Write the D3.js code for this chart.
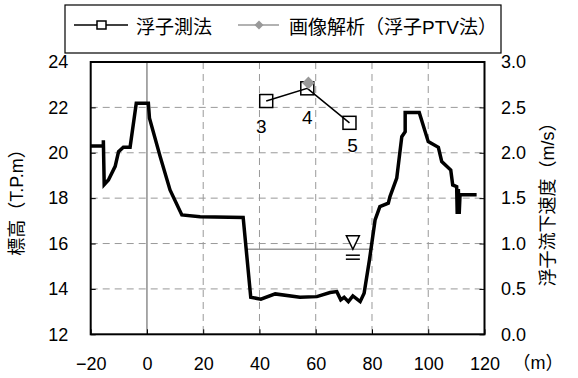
<!DOCTYPE html>
<html>
<head>
<meta charset="utf-8">
<script src="https://cdn.jsdelivr.net/npm/d3@7"></script>
<style>
  body { margin: 0; background: #fff; }
  svg { font-family: "Liberation Sans", "Noto Sans CJK JP", sans-serif; }
</style>
</head>
<body>
<div id="chart"></div>
<script>
// cross section (distance m, elevation T.P.m)
const sectionDist = [-20, -15.5, -15.5, -15.2, -13.7, -11.3, -10.1, -8.4, -6.0, -3.8, 0.5, 0.9, 4.7, 8.2, 12.4, 18.9,
  34.2, 36.9, 40.5, 45.6, 54.4, 60.4, 65.1, 67.5, 68.9, 70.1, 71.6, 73.2, 75.8, 77.2, 79.1, 81.1,
  82.8, 85.8, 86.4, 88.8, 90.6, 91.8, 91.8, 96.8, 100.0, 103.6, 104.8, 108.0, 108.7, 110.1,
  110.3, 110.7, 111.0, 111.3, 117.2];
const sectionElev = [20.3, 20.3, 20.55, 18.6, 18.8, 19.4, 20.05, 20.24, 20.24, 22.18, 22.18, 21.52, 19.83, 18.36, 17.26, 17.18,
  17.15, 13.63, 13.55, 13.78, 13.63, 13.66, 13.84, 13.88, 13.52, 13.63, 13.44, 13.69, 13.44, 13.81, 15.28, 17.04,
  17.63, 17.78, 18.07, 18.88, 20.71, 20.93, 21.77, 21.77, 20.49, 20.24, 19.61, 19.24, 18.58, 18.51,
  17.3, 18.4, 17.3, 18.15, 18.15];

// float measurements (distance m, velocity m/s)
const floatNo = ['3', '4', '5'];
const floatDist = [42.4, 57.0, 72.0];
const floatVel = [2.57, 2.71, 2.33];

// image analysis (PTV)
const ptvDist = [57.4];
const ptvVel = [2.77];

// water level
const waterLevel = 15.75;
const waterFrom = 35, waterTo = 80.5, waterMark = 73.2;

// ticks
const xTicks = [-20, 0, 20, 40, 60, 80, 100, 120];
const yTicks = [12, 14, 16, 18, 20, 22, 24];
const y2Ticks = [0, 0.5, 1.0, 1.5, 2.0, 2.5, 3.0];

const legendLabels = ['浮子測法', '画像解析（浮子PTV法）'];

const W = 578, H = 378;
const m = { left: 90.7, right: 484.5, top: 62, bottom: 334.3 };

const svg = d3.select('#chart').append('svg')
  .attr('width', W)
  .attr('height', H);

const x = d3.scaleLinear().domain([-20, 120]).range([m.left, m.right]);
const y = d3.scaleLinear().domain([12, 24]).range([m.bottom, m.top]);
const y2 = d3.scaleLinear().domain([0, 3]).range([m.bottom, m.top]);

// dashed grid
svg.append('g')
  .selectAll('line')
  .data(yTicks.filter(d => d > 12 && d < 24))
  .enter().append('line')
  .attr('x1', m.left).attr('x2', m.right)
  .attr('y1', d => y(d)).attr('y2', d => y(d))
  .attr('stroke', '#999').attr('stroke-dasharray', '7,5');

svg.append('g')
  .selectAll('line')
  .data(xTicks.filter(d => d > 0 && d < 120))
  .enter().append('line')
  .attr('x1', d => x(d)).attr('x2', d => x(d))
  .attr('y1', m.top).attr('y2', m.bottom)
  .attr('stroke', '#999').attr('stroke-dasharray', '7,5');

// x = 0 line
svg.append('line')
  .attr('x1', x(0)).attr('x2', x(0))
  .attr('y1', m.top).attr('y2', m.bottom)
  .attr('stroke', '#555').attr('stroke-width', 1);

// water level
svg.append('line')
  .attr('x1', x(waterFrom)).attr('x2', x(waterTo))
  .attr('y1', y(waterLevel)).attr('y2', y(waterLevel))
  .attr('stroke', '#999').attr('stroke-width', 1.5);

const wx = x(waterMark), wy = y(waterLevel);
svg.append('path')
  .attr('d', `M${wx - 6.5},${wy - 13.5}L${wx + 6.5},${wy - 13.5}L${wx},${wy}Z`)
  .attr('fill', 'none').attr('stroke', '#000').attr('stroke-width', 1.5);
[6, 10].forEach(off => {
  svg.append('line')
    .attr('x1', wx - 7).attr('x2', wx + 7)
    .attr('y1', wy + off).attr('y2', wy + off)
    .attr('stroke', '#000').attr('stroke-width', 1.5);
});

// cross section line
const section = sectionDist.map((d, i) => ({ d: d, e: sectionElev[i] }));
svg.append('path')
  .datum(section)
  .attr('fill', 'none')
  .attr('stroke', '#000')
  .attr('stroke-width', 3.5)
  .attr('stroke-linejoin', 'miter')
  .attr('d', d3.line().x(p => x(p.d)).y(p => y(p.e)));

// float line + squares
const floats = floatDist.map((d, i) => ({ d: d, v: floatVel[i], n: floatNo[i] }));
svg.append('path')
  .datum(floats)
  .attr('fill', 'none')
  .attr('stroke', '#000')
  .attr('stroke-width', 1.5)
  .attr('d', d3.line().x(p => x(p.d)).y(p => y2(p.v)));

svg.selectAll('rect.float')
  .data(floats)
  .enter().append('rect')
  .attr('class', 'float')
  .attr('x', p => x(p.d) - 6.5).attr('y', p => y2(p.v) - 6.5)
  .attr('width', 13).attr('height', 13)
  .attr('fill', 'none').attr('stroke', '#000').attr('stroke-width', 1.5);

const labelOff = [[-5, 25], [0, 29], [3, 23]];
svg.selectAll('text.fno')
  .data(floats)
  .enter().append('text')
  .attr('class', 'fno')
  .attr('x', (p, i) => x(p.d) + labelOff[i][0])
  .attr('y', (p, i) => y2(p.v) + labelOff[i][1])
  .attr('dy', '0.35em')
  .attr('text-anchor', 'middle')
  .attr('font-size', 19)
  .text(p => p.n);

// ptv diamond
const diamond = d3.symbol().type(d3.symbolSquare).size(80);
svg.selectAll('path.ptv')
  .data(ptvDist.map((d, i) => ({ d: d, v: ptvVel[i] })))
  .enter().append('path')
  .attr('class', 'ptv')
  .attr('d', diamond)
  .attr('transform', p => `translate(${x(p.d)},${y2(p.v)}) rotate(45)`)
  .attr('fill', '#999');

// axes
const fmt1 = d3.format('.1f');
svg.append('g')
  .attr('transform', `translate(0,${m.bottom})`)
  .call(d3.axisBottom(x).tickValues(xTicks).tickSize(-5).tickPadding(22.5))
  .call(g => g.selectAll('text').attr('font-size', 18).attr('fill', '#000'));

svg.append('g')
  .attr('transform', `translate(${m.left},0)`)
  .call(d3.axisLeft(y).tickValues(yTicks).tickSize(-5).tickPadding(22.5))
  .call(g => g.selectAll('text').attr('font-size', 18).attr('fill', '#000'));

svg.append('g')
  .attr('transform', `translate(${m.right},0)`)
  .call(d3.axisRight(y2).tickValues(y2Ticks).tickFormat(fmt1).tickSize(-5).tickPadding(16.5))
  .call(g => g.selectAll('text').attr('font-size', 18).attr('fill', '#000'));

svg.selectAll('.domain').remove();
svg.selectAll('.tick line').attr('stroke', '#000');

// plot frame
svg.append('rect')
  .attr('x', m.left).attr('y', m.top)
  .attr('width', m.right - m.left).attr('height', m.bottom - m.top)
  .attr('fill', 'none').attr('stroke', '#000').attr('stroke-width', 2);

// axis titles
svg.append('text')
  .attr('transform', `translate(17,198) rotate(-90)`)
  .attr('text-anchor', 'middle').attr('dominant-baseline', 'central')
  .attr('font-size', 18)
  .text('標高（T.P.m）');

svg.append('text')
  .attr('transform', `translate(548,200) rotate(-90)`)
  .attr('text-anchor', 'middle').attr('dominant-baseline', 'central')
  .attr('font-size', 18)
  .text('浮子流下速度（m/s）');

svg.append('text')
  .attr('x', 538).attr('y', 363)
  .attr('text-anchor', 'middle').attr('dominant-baseline', 'central')
  .attr('font-size', 18)
  .text('（m）');

// legend
const legend = svg.append('g');
legend.append('rect')
  .attr('x', 65).attr('y', 5).attr('width', 436).attr('height', 48)
  .attr('fill', '#fff').attr('stroke', '#000').attr('stroke-width', 1.2);

legend.append('line')
  .attr('x1', 74).attr('x2', 128).attr('y1', 25).attr('y2', 25)
  .attr('stroke', '#000').attr('stroke-width', 1.5);
legend.append('rect')
  .attr('x', 97).attr('y', 21).attr('width', 9).attr('height', 8)
  .attr('fill', '#fff').attr('stroke', '#000').attr('stroke-width', 1.5);
legend.append('text')
  .attr('x', 136).attr('y', 34).attr('font-size', 19)
  .text(legendLabels[0]);

legend.append('line')
  .attr('x1', 238).attr('x2', 279).attr('y1', 25).attr('y2', 25)
  .attr('stroke', '#999').attr('stroke-width', 1.5);
legend.append('path')
  .attr('d', d3.symbol().type(d3.symbolSquare).size(40))
  .attr('transform', 'translate(259,25) rotate(45)')
  .attr('fill', '#999');
legend.append('text')
  .attr('x', 289).attr('y', 34).attr('font-size', 19)
  .text(legendLabels[1]);
</script>
</body>
</html>
